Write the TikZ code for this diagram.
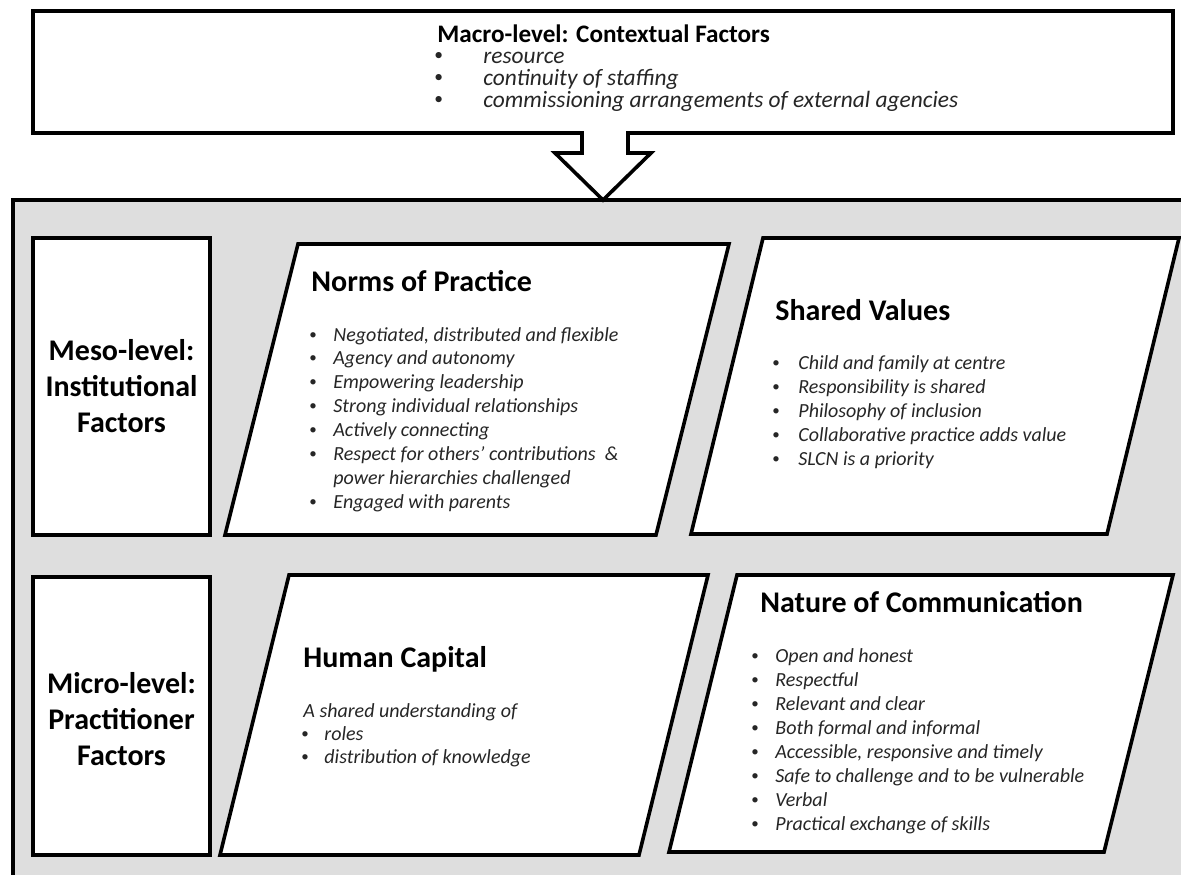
\documentclass[tikz,border=0pt]{standalone}
\usepackage{fontspec}
\usepackage{graphicx}
\setmainfont{Carlito}
\definecolor{bg}{HTML}{DEDEDE}
\newlength\bw
\newcommand\mybul{\raisebox{0.1em}{\scalebox{0.75}{\upshape\textbullet}}}
\newcommand\mylines[2]{\vtop{\baselineskip=#1\lineskiplimit=-\maxdimen\lineskip=0pt #2}}
\newcommand\bi[1]{\hbox{\makebox[\bw][l]{\mybul}\itshape #1}}
\newcommand\ci[1]{\hbox{\hspace*{\bw}\itshape #1}}
\begin{document}
\begin{tikzpicture}[x=0.5pt,y=-0.5pt,
 frame/.style={draw=black,line width=1.8pt,fill=white,line join=miter},
 ttl/.style={anchor=base west,inner sep=0pt,font=\fontsize{15}{18}\selectfont\bfseries},
 lst/.style={anchor=base west,inner sep=0pt,font=\fontsize{10}{12}\selectfont,text=black!85},
 side/.style={align=center,inner sep=0pt,font=\fontsize{15}{18}\selectfont\bfseries}]
\useasboundingbox (0,0) rectangle (1181,874);
\clip (0,0) rectangle (1181,874);
% outer grey panel
\draw[line width=1.8pt,fill=bg] (13,200) rectangle (1200,900);
% macro box and block arrow
\draw[frame] (33,11) rectangle (1173,133);
\fill[white] (583.8,128) rectangle (626.2,140);
\draw[line width=1.8pt,fill=white,line join=miter] (582,133) -- (582,153) -- (555,153) -- (603,200) -- (651,153) -- (628,153) -- (628,133);
% side boxes
\draw[frame] (33,238) rectangle (210,535);
\draw[frame] (33,577) rectangle (210,855);
% parallelograms
\draw[frame] (225,535) -- (298,244) -- (729,244) -- (656,535) -- cycle;
\draw[frame] (691,534) -- (763,238) -- (1179,238) -- (1107,534) -- cycle;
\draw[frame] (220,855) -- (289,575) -- (708,575) -- (639,855) -- cycle;
\draw[frame] (669,852) -- (737,575) -- (1173,575) -- (1104,852) -- cycle;
% macro text
\node[anchor=base west,inner sep=0pt,font=\fontsize{12.6}{15}\selectfont\bfseries] (macro) at (437,42) {Macro-level: Contextual Factors};
\node[lst,font=\fontsize{11.7}{11}\selectfont] (macrolist) at (434,63) {\setlength\bw{24.5pt}\mylines{11pt}{\bi{resource}\bi{continuity of staffing}\bi{commissioning arrangements of external agencies}}};
% side labels
\node[side] (meso) at (121.5,386.5) {Meso-level:\\Institutional\\Factors};
\node[side] (micro) at (121.5,719) {Micro-level:\\Practitioner\\Factors};
% norms
\node[ttl] (normsT) at (311,291) {Norms of Practice};
\node[lst] (normsL) at (309,341) {\setlength\bw{12pt}\mylines{11.95pt}{\bi{Negotiated, distributed and flexible}\bi{Agency and autonomy}\bi{Empowering leadership}\bi{Strong individual relationships}\bi{Actively connecting}\bi{Respect for others’ contributions \ \&}\ci{power hierarchies challenged}\bi{Engaged with parents}}};
% shared values
\node[ttl] (sharedT) at (775,320) {Shared Values};
\node[lst] (sharedL) at (772,369) {\setlength\bw{13pt}\mylines{12pt}{\bi{Child and family at centre}\bi{Responsibility is shared}\bi{Philosophy of inclusion}\bi{Collaborative practice adds value}\bi{SLCN is a priority}}};
% human capital
\node[ttl] (humanT) at (303,667) {Human Capital};
\node[lst] (humanL) at (301,717) {\setlength\bw{11.5pt}\mylines{11.5pt}{\hbox{\hspace*{1pt}\itshape A shared understanding of}\bi{roles}\bi{distribution of knowledge}}};
% nature of communication
\node[ttl] (natureT) at (760,612) {Nature of Communication};
\node[lst] (natureL) at (751,662) {\setlength\bw{12pt}\mylines{12pt}{\bi{Open and honest}\bi{Respectful}\bi{Relevant and clear}\bi{Both formal and informal}\bi{Accessible, responsive and timely}\bi{Safe to challenge and to be vulnerable}\bi{Verbal}\bi{Practical exchange of skills}}};
\end{tikzpicture}
\end{document}
